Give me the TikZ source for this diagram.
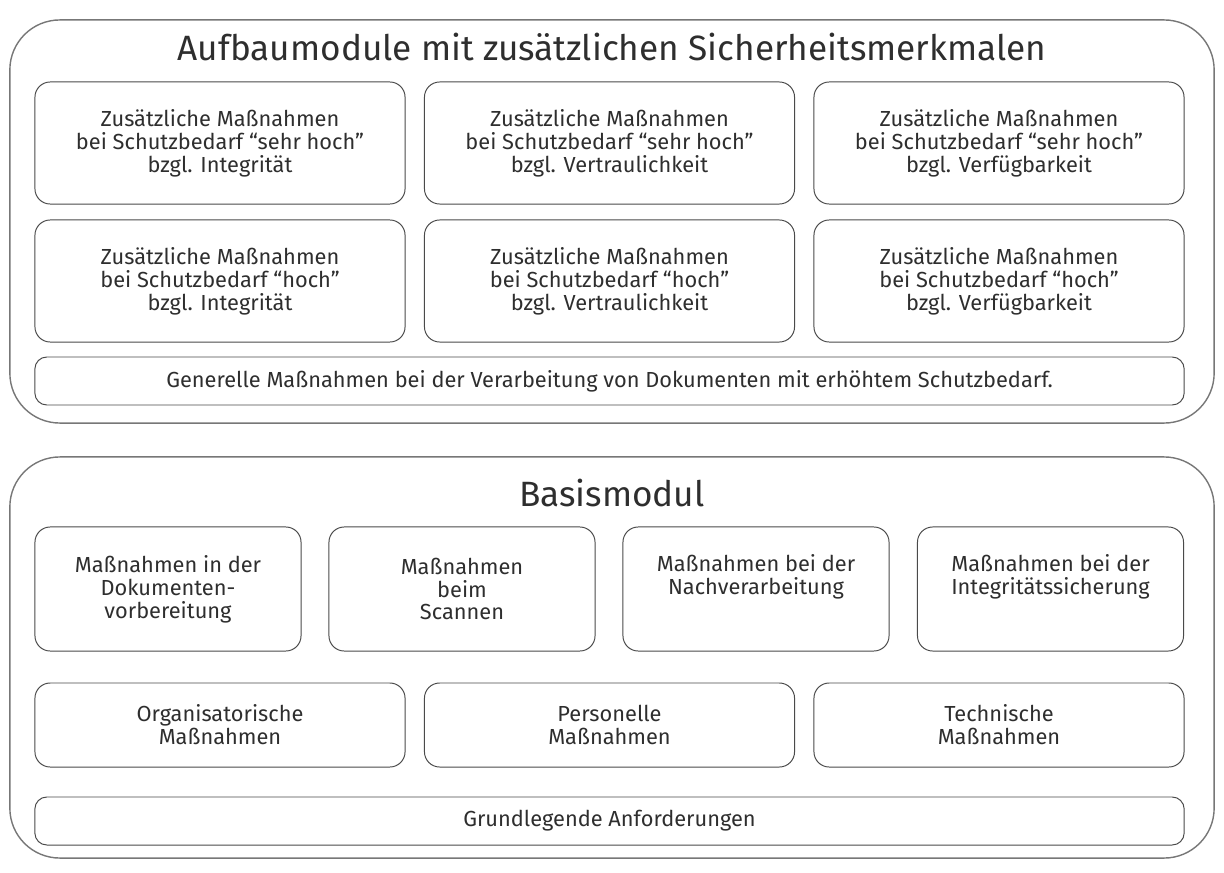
\documentclass[tikz,border=0pt]{standalone}
\usepackage{fontspec}
\setmainfont{Fira Sans}
\usepackage{xcolor}
\usepackage{tikz}
\usetikzlibrary{positioning}
\definecolor{txtgray}{HTML}{2E2E2E}
\definecolor{outgray}{HTML}{777777}
\definecolor{ingray}{HTML}{4A4A4A}
\tikzset{
    modul/.style={draw=outgray, line width=1pt, rounded corners=1.25cm, minimum width=30.1cm},
    massbox/.style={draw=ingray, line width=0.7pt, rounded corners=0.38cm, align=center,
        text=txtgray, font=\fontsize{15.5}{16.3}\selectfont, inner sep=0pt},
    widebox/.style={massbox, minimum width=9.25cm, minimum height=3.05cm},
    basisbox/.style={massbox, minimum width=6.65cm, minimum height=3.1cm},
    lowbox/.style={massbox, minimum width=9.25cm, minimum height=2.1cm},
    barbox/.style={massbox, rounded corners=0.3cm, minimum width=28.725cm, minimum height=1.2cm},
    titel/.style={text=txtgray, font=\fontsize{25}{30}\selectfont, inner sep=0pt}}

\begin{document}
\begin{tikzpicture}[x=0.025cm,y=-0.025cm]
    \useasboundingbox (0,0) rectangle (1224,873);
    % Aufbaumodule
    \node (auf)[modul, minimum height=10.075cm] at (612,221.5) {};
    \node (auftitel)[titel] at (612,47) {Aufbaumodule mit zusätzlichen Sicherheitsmerkmalen};

    \node (shi)[widebox] at (220,143) {Zusätzliche Maßnahmen\\bei Schutzbedarf “sehr hoch”\\bzgl. Integrität};
    \node (shv)[widebox] at (609.5,143) {Zusätzliche Maßnahmen\\bei Schutzbedarf “sehr hoch”\\bzgl. Vertraulichkeit};
    \node (shf)[widebox] at (999,143) {Zusätzliche Maßnahmen\\bei Schutzbedarf “sehr hoch”\\bzgl. Verfügbarkeit};

    \node (hi)[widebox] at (220,281) {Zusätzliche Maßnahmen\\bei Schutzbedarf “hoch”\\bzgl. Integrität};
    \node (hv)[widebox] at (609.5,281) {Zusätzliche Maßnahmen\\bei Schutzbedarf “hoch”\\bzgl. Vertraulichkeit};
    \node (hf)[widebox] at (999,281) {Zusätzliche Maßnahmen\\bei Schutzbedarf “hoch”\\bzgl. Verfügbarkeit};

    \node (generell)[barbox] at (609.5,381) {Generelle Maßnahmen bei der Verarbeitung von Dokumenten mit erhöhtem Schutzbedarf.};

    % Basismodul
    \node (basis)[modul, minimum height=10.025cm] at (612,657.5) {};
    \node (basistitel)[titel] at (612,493) {Basismodul};

    \node (vorb)[basisbox] at (168,589) {Maßnahmen in der\\Dokumenten-\\vorbereitung};
    \node (scan)[basisbox] at (462,589) {Maßnahmen\\beim\\Scannen};
    \node (nach)[basisbox] at (756,589) {Maßnahmen bei der\\Nachverarbeitung\\\strut};
    \node (integ)[basisbox] at (1050.5,589) {Maßnahmen bei der\\Integritätssicherung\\\strut};

    \node (org)[lowbox] at (220,725) {Organisatorische\\Maßnahmen};
    \node (pers)[lowbox] at (609.5,725) {Personelle\\Maßnahmen};
    \node (tech)[lowbox] at (999,725) {Technische\\Maßnahmen};

    \node (grund)[barbox] at (609.5,821) {Grundlegende Anforderungen};
\end{tikzpicture}
\end{document}
